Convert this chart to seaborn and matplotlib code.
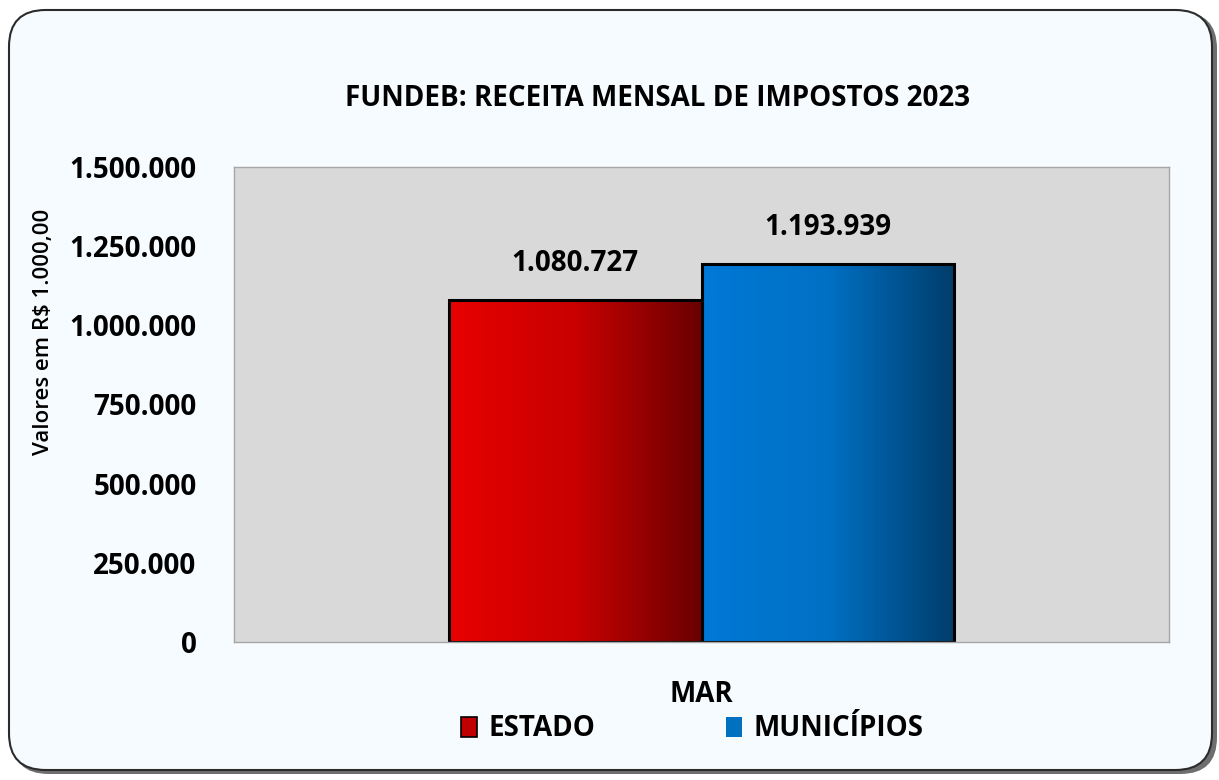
import numpy as np
import pandas as pd
import matplotlib
matplotlib.use("Agg")
import matplotlib.pyplot as plt
import seaborn as sns
from matplotlib.patches import FancyBboxPatch, Patch
from matplotlib.colors import LinearSegmentedColormap
from matplotlib.ticker import FuncFormatter

months = ["MAR", "MAR"]
series = ["ESTADO", "MUNICÍPIOS"]
values = [1080727, 1193939]
value_labels = ["1.080.727", "1.193.939"]
yticks = [0, 250000, 500000, 750000, 1000000, 1250000, 1500000]

sns.set_theme(style="white")
plt.rcParams['font.family'] = ['Open Sans', 'DejaVu Sans']
plt.rcParams['text.color'] = 'black'
plt.rcParams['xtick.color'] = 'black'
plt.rcParams['ytick.color'] = 'black'

df = pd.DataFrame({"mes": months, "serie": series, "valor": values})

fig = plt.figure(figsize=(12.19, 7.80), dpi=100)
fig.patch.set_facecolor("white")

# outer rounded frame with shadow
shadow = FancyBboxPatch((12 / 1219, 6 / 780), 1205 / 1219, 762 / 780,
                        boxstyle="round,pad=0,rounding_size=0.03",
                        transform=fig.transFigure, facecolor="#6e6e6e",
                        edgecolor="none", zorder=-2, mutation_aspect=1219 / 780)
fig.patches.append(shadow)
frame = FancyBboxPatch((9 / 1219, 10 / 780), 1203 / 1219, 760 / 780,
                       boxstyle="round,pad=0,rounding_size=0.03",
                       transform=fig.transFigure, facecolor="#f6fbff",
                       edgecolor="#2b2b2b", linewidth=1.5, zorder=-1,
                       mutation_aspect=1219 / 780)
fig.patches.append(frame)

ax = fig.add_axes([234 / 1219, 1 - 642 / 780, 935 / 1219, 475 / 780])
ax.set_facecolor("#d9d9d9")

sns.barplot(data=df, x="mes", y="valor", hue="serie", width=0.54,
            palette=["#c00000", "#0070c0"], edgecolor="black", linewidth=2.2,
            ax=ax, legend=False, errorbar=None, saturation=1)

ax.set_xlim(-0.5, 0.5)
ax.set_ylim(0, 1500000)
ax.set_yticks(yticks)
ax.yaxis.set_major_formatter(FuncFormatter(lambda v, p: "0" if v == 0 else f"{int(v):,}".replace(",", ".")))

cmaps = [LinearSegmentedColormap.from_list("r", ["#e80000", "#c80000", "#6a0000"]),
         LinearSegmentedColormap.from_list("b", ["#0079d6", "#0070c4", "#003d6b"])]
grad = np.linspace(0, 1, 256).reshape(1, -1)
bars = [p for p in ax.patches]
bars.sort(key=lambda p: p.get_x())
for p, cm, lab in zip(bars, cmaps, value_labels):
    x0, w, h = p.get_x(), p.get_width(), p.get_height()
    im = ax.imshow(grad, cmap=cm, aspect="auto", extent=[x0, x0 + w, 0, h],
                   zorder=p.get_zorder() + 0.1)
    im.set_clip_path(p)
    p.set_facecolor("none")
    p.set_zorder(p.get_zorder() + 0.2)
    ax.annotate(lab, (x0 + w / 2, h), xytext=(0, 26), textcoords="offset points",
                ha="center", va="center", fontsize=20, fontweight="bold", color="black")
ax.set_xlim(-0.5, 0.5)
ax.set_ylim(0, 1500000)

for s in ax.spines.values():
    s.set_color("#a6a6a6")
    s.set_linewidth(1)

ax.tick_params(axis="y", length=0, pad=27, labelsize=20)
ax.tick_params(axis="x", length=0, pad=27, labelsize=20)
for t in ax.get_yticklabels() + ax.get_xticklabels():
    t.set_fontweight("bold")
ax.set_xlabel("")
ax.set_ylabel("")

fig.text(658 / 1219, 1 - 98 / 780, "FUNDEB: RECEITA MENSAL DE IMPOSTOS 2023",
         ha="center", va="center", fontsize=20, fontweight="bold")
fig.text(44 / 1219, 1 - 332 / 780, "Valores em R$ 1.000,00", rotation=90,
         ha="center", va="center", fontsize=16, fontweight="semibold")

handles = [Patch(facecolor="#c00000", edgecolor="black", linewidth=1.2),
           Patch(facecolor="#0070c0", edgecolor="none")]
leg = fig.legend(handles, series, loc="center", bbox_to_anchor=(692 / 1219, 1 - 729 / 780),
                 ncol=2, frameon=False, handlelength=0.6, handleheight=0.7,
                 handletextpad=0.4, columnspacing=4.7,
                 prop={"weight": "bold", "size": 20})

fig.savefig("out.png", dpi=100, facecolor=fig.get_facecolor())
